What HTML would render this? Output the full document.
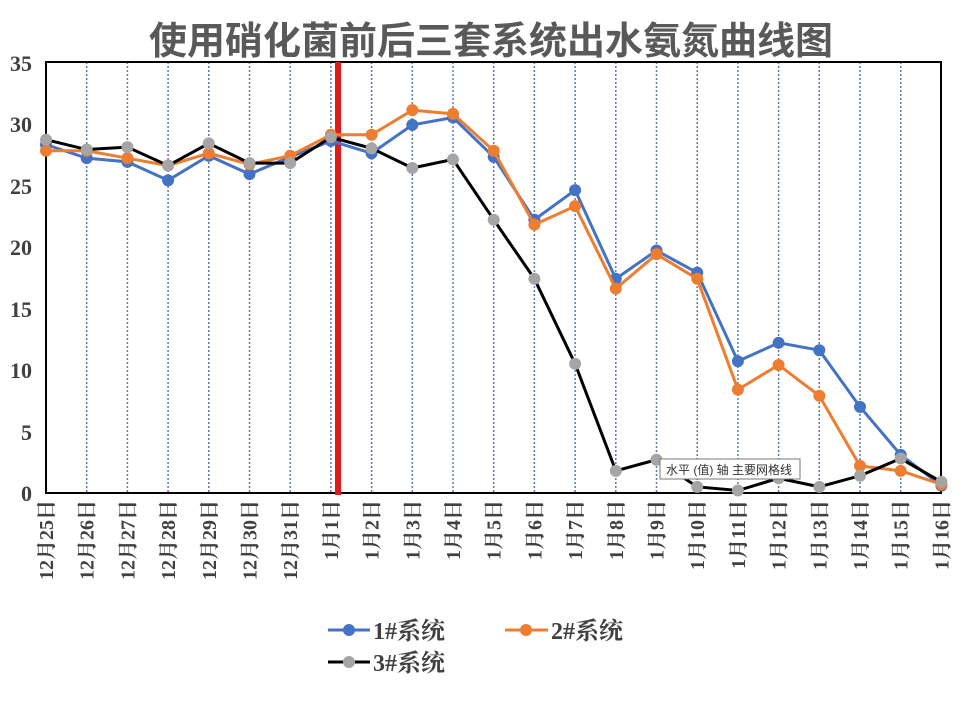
<!DOCTYPE html>
<html><head><meta charset="utf-8"><style>
body{margin:0;background:#fff;}
svg{display:block;}
.t{font-family:"Liberation Serif","Noto Serif CJK SC",serif;font-weight:bold;fill:#404040;}
</style></head><body>
<svg id="s" width="980" height="706" viewBox="0 0 980 706" xmlns="http://www.w3.org/2000/svg">
<text x="491" y="54" text-anchor="middle" font-family="Liberation Sans,Noto Sans CJK SC,sans-serif" font-weight="bold" font-size="38" fill="#595959">使用硝化菌前后三套系统出水氨氮曲线图</text>
<g id="grid"></g>
<rect x="46" y="62" width="895" height="431" fill="none" stroke="#000" stroke-width="2"/>
<g class="t" font-size="22" text-anchor="end">
<text x="32" y="501">0</text><text x="32" y="440">5</text><text x="32" y="378">10</text><text x="32" y="317">15</text><text x="32" y="255">20</text><text x="32" y="194">25</text><text x="32" y="132">30</text><text x="32" y="71">35</text>
</g>
<line x1="338" y1="62" x2="338" y2="495" stroke="#e31a1a" stroke-width="6"/>
<g id="series"></g>
<g class="t" font-size="20" text-anchor="end">
<text transform="translate(53,500) rotate(-90)">12月25日</text>
<text transform="translate(93.7,500) rotate(-90)">12月26日</text>
<text transform="translate(134.4,500) rotate(-90)">12月27日</text>
<text transform="translate(175.1,500) rotate(-90)">12月28日</text>
<text transform="translate(215.8,500) rotate(-90)">12月29日</text>
<text transform="translate(256.5,500) rotate(-90)">12月30日</text>
<text transform="translate(297.2,500) rotate(-90)">12月31日</text>
<text transform="translate(337.9,500) rotate(-90)">1月1日</text>
<text transform="translate(378.6,500) rotate(-90)">1月2日</text>
<text transform="translate(419.3,500) rotate(-90)">1月3日</text>
<text transform="translate(460,500) rotate(-90)">1月4日</text>
<text transform="translate(500.7,500) rotate(-90)">1月5日</text>
<text transform="translate(541.4,500) rotate(-90)">1月6日</text>
<text transform="translate(582.1,500) rotate(-90)">1月7日</text>
<text transform="translate(622.8,500) rotate(-90)">1月8日</text>
<text transform="translate(663.5,500) rotate(-90)">1月9日</text>
<text transform="translate(704.2,500) rotate(-90)">1月10日</text>
<text transform="translate(744.9,500) rotate(-90)">1月11日</text>
<text transform="translate(785.6,500) rotate(-90)">1月12日</text>
<text transform="translate(826.3,500) rotate(-90)">1月13日</text>
<text transform="translate(867,500) rotate(-90)">1月14日</text>
<text transform="translate(907.7,500) rotate(-90)">1月15日</text>
<text transform="translate(948.4,500) rotate(-90)">1月16日</text>
</g>
<rect x="660" y="459" width="140" height="20" fill="#fff" stroke="#777" stroke-width="1"/>
<text x="666" y="474" font-family="Liberation Sans,Noto Sans CJK SC,sans-serif" font-size="12" fill="#333">水平 (值) 轴 主要网格线</text>
<line x1="328" y1="630" x2="370" y2="630" stroke="#4472c4" stroke-width="3"/><circle cx="349" cy="630" r="6" fill="#4472c4"/>
<text class="t" x="373" y="639" font-size="24">1#系统</text>
<line x1="505" y1="630" x2="548" y2="630" stroke="#ed7d31" stroke-width="3"/><circle cx="526" cy="630" r="6" fill="#ed7d31"/>
<text class="t" x="551" y="639" font-size="24">2#系统</text>
<line x1="328" y1="662" x2="370" y2="662" stroke="#000" stroke-width="3"/><circle cx="349" cy="662" r="6" fill="#a5a5a5"/>
<text class="t" x="373" y="671" font-size="24">3#系统</text>
</svg>
<script>
var NS="http://www.w3.org/2000/svg";
function X(i){return 46+i*40.7;}function Y(v){return 493-v*12.31;}
var g=document.getElementById('grid');
for(var i=1;i<22;i++){var l=document.createElementNS(NS,'line');l.setAttribute('x1',X(i));l.setAttribute('x2',X(i));l.setAttribute('y1',62);l.setAttribute('y2',493);l.setAttribute('stroke','#5b7bb0');l.setAttribute('stroke-width','1.5');l.setAttribute('stroke-dasharray','2,2');g.appendChild(l);}
var d=[
{c:'#4472c4',m:'#4472c4',v:[28.3,27.2,26.9,25.4,27.4,25.9,27.3,28.6,27.6,29.9,30.5,27.3,22.2,24.6,17.4,19.7,17.9,10.7,12.2,11.6,7.0,3.1,0.6]},
{c:'#ed7d31',m:'#ed7d31',v:[27.8,27.8,27.2,26.6,27.6,26.7,27.4,29.1,29.1,31.1,30.8,27.8,21.8,23.3,16.6,19.4,17.4,8.4,10.4,7.9,2.2,1.8,0.7]},
{c:'#000',m:'#a5a5a5',v:[28.7,27.9,28.1,26.6,28.4,26.8,26.8,28.9,28.0,26.4,27.1,22.2,17.4,10.5,1.8,2.7,0.5,0.2,1.2,0.5,1.4,2.8,0.9]}];
var s=document.getElementById('series');
d.forEach(function(o){var p=document.createElementNS(NS,'polyline');p.setAttribute('points',o.v.map(function(v,i){return X(i)+','+Y(v)}).join(' '));p.setAttribute('fill','none');p.setAttribute('stroke',o.c);p.setAttribute('stroke-width','3');s.appendChild(p);
o.v.forEach(function(v,i){var c=document.createElementNS(NS,'circle');c.setAttribute('cx',X(i));c.setAttribute('cy',Y(v));c.setAttribute('r',6);c.setAttribute('fill',o.m);s.appendChild(c);});});
</script>
</body></html>
